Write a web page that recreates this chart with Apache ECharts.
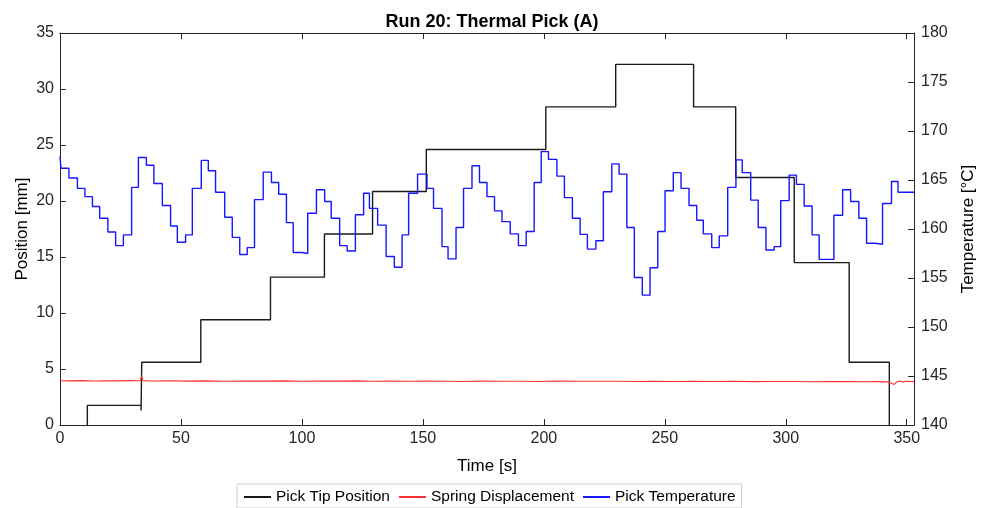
<!DOCTYPE html>
<html>
<head>
<meta charset="utf-8">
<title>Run 20: Thermal Pick (A)</title>
<script src="https://cdn.jsdelivr.net/npm/echarts@6/dist/echarts.min.js"></script>
<style>
  html, body { margin: 0; padding: 0; background: #fff; }
  #chart { width: 981px; height: 508px; }
</style>
</head>
<body>
<div id="chart"></div>
<script>
// Pick tip position [mm] — level start times [s] and held values
const posTime = [0, 11.3, 33.5, 33.8, 58.2, 87.0, 109.3, 129.2, 151.4, 200.8, 229.7, 261.9, 279.3, 303.5, 326.2, 342.8, 353];
const posVal  = [-0.5, 1.75, 1.3, 5.6, 9.4, 13.2, 17.05, 20.85, 24.6, 28.4, 32.2, 28.4, 22.1, 14.5, 5.6, -0.5, -0.5];

// Spring displacement [mm]
const springTime = [0, 4, 9, 14, 19, 24, 29, 33.2, 33.7, 34.3, 38, 45, 52, 60, 68, 76, 84, 92, 100, 108,
  116, 122, 128.6, 129.1, 129.8, 136, 144, 152, 160, 166, 174, 182, 190, 198, 206, 214, 222, 229.4, 229.9, 230.5,
  238, 246, 254, 262, 270, 278, 286, 294, 302, 310, 318, 326.1, 326.6, 332, 338, 342.5, 344.8, 345.6, 347, 348.4,
  350, 353];
const springVal = [3.95, 3.94, 3.96, 3.93, 3.95, 3.94, 3.96, 3.95, 4.4, 3.96, 3.93, 3.95, 3.92, 3.94, 3.91, 3.93, 3.92, 3.94, 3.91, 3.93,
  3.92, 3.94, 3.90, 3.76, 3.91, 3.92, 3.90, 3.93, 3.91, 3.89, 3.92, 3.90, 3.91, 3.89, 3.92, 3.90, 3.91, 3.90, 4.05, 3.90,
  3.89, 3.91, 3.88, 3.90, 3.88, 3.90, 3.87, 3.89, 3.88, 3.86, 3.88, 3.87, 3.98, 3.86, 3.87, 3.85, 3.62, 3.80, 3.92, 3.85,
  3.90, 3.87];

// Pick temperature [°C] — level start times [s] and held values
const tempTime = [0, 0.4, 3.7, 7.2, 10.3, 13.4, 16.4, 19.8, 23.0, 26.2, 29.6, 32.4, 35.7, 38.8, 42.3, 45.7, 48.5, 51.9, 54.7, 58.4,
  61.3, 64.3, 68.1, 71.2, 74.3, 77.4, 80.4, 84.0, 87.4, 90.4, 93.6, 96.4, 100.1, 102.4, 106.0, 109.4, 112.1, 115.6, 118.7, 122.1,
  125.5, 127.9, 131.3, 134.8, 138.2, 141.4, 144.1, 147.8, 151.7, 154.4, 157.9, 160.4, 163.7, 166.8, 170.3, 173.4, 176.5, 179.6, 182.7, 186.1,
  189.5, 192.7, 196.0, 198.9, 201.9, 205.4, 208.5, 211.8, 215.0, 218.0, 221.5, 224.6, 228.1, 231.1, 234.3, 237.4, 240.7, 243.9, 247.1, 250.1,
  253.5, 256.7, 260.0, 263.2, 265.9, 269.4, 272.5, 276.0, 279.4, 282.0, 285.5, 288.6, 291.8, 295.2, 297.9, 301.4, 304.4, 307.6, 310.9, 313.8,
  319.9, 323.5, 326.8, 330.2, 333.4, 336.8, 340.0, 343.7, 346.4, 353];
const tempVal = [167.4, 166.2, 165.2, 164.15, 163.3, 162.3, 161.1, 159.7, 158.3, 159.4, 164.25, 167.3, 166.5, 164.65, 162.4, 160.3, 158.65, 159.4, 164.15, 167.0,
  165.95, 163.75, 161.2, 159.15, 157.4, 158.1, 163.0, 165.8, 164.75, 163.55, 160.65, 157.6, 157.5, 161.6, 164.0, 162.8, 161.1, 158.3, 157.75, 161.45,
  163.65, 162.1, 160.4, 157.2, 156.1, 159.4, 163.65, 165.6, 164.15, 162.1, 158.2, 156.95, 160.15, 164.15, 166.45, 164.75, 163.3, 161.85, 160.75, 159.5,
  158.3, 159.75, 164.75, 167.9, 167.1, 165.4, 163.2, 161.1, 159.45, 157.95, 158.8, 163.8, 166.65, 165.6, 160.15, 155.05, 153.25, 156.05, 159.75, 163.9,
  165.75, 164.15, 162.4, 160.9, 159.5, 158.1, 159.3, 164.25, 167.05, 165.75, 162.95, 160.15, 157.85, 158.2, 162.9, 165.5, 164.55, 162.35, 159.4, 156.9,
  161.4, 164.0, 162.8, 161.1, 158.55, 158.45, 162.6, 164.85, 163.75, 163.75];

const xTicks = { min: 0, max: 353, interval: 50 };
const posTicks = { min: 0, max: 35, interval: 5 };
const tempTicks = { min: 140, max: 180, interval: 5 };

const zip = (a, b) => a.map((v, i) => [v, b[i]]);

const axisColor = '#262626';
const font = 'Liberation Sans, Arial, Helvetica, sans-serif';

const chart = echarts.init(document.getElementById('chart'), null, { renderer: 'canvas' });

// shared look of the boxed axes: thin dark line, ticks pointing into the plot
const boxLine = { show: true, onZero: false, lineStyle: { color: axisColor, width: 1 } };
const boxTick = { show: true, inside: true, length: 6, lineStyle: { color: axisColor } };

chart.setOption({
  animation: false,
  backgroundColor: '#ffffff',
  title: {
    text: 'Run 20: Thermal Pick (A)',
    left: 487,
    textAlign: 'center',
    top: 8,
    textStyle: { fontFamily: font, fontSize: 18, fontWeight: 'bold', color: '#000' }
  },
  grid: { left: 60, right: 67, top: 33, bottom: 83, containLabel: false, outerBoundsMode: 'none' },
  legend: {
    left: 237,
    top: 484,
    padding: [5, 6, 3, 6],
    itemGap: 8,
    itemWidth: 27,
    itemHeight: 14,
    borderColor: '#cfcfcf',
    borderWidth: 1,
    itemStyle: { opacity: 0 },
    textStyle: { fontFamily: font, fontSize: 15.5, color: '#000' },
    data: ['Pick Tip Position', 'Spring Displacement', 'Pick Temperature']
  },
  xAxis: [
    {
      type: 'value', position: 'bottom',
      min: xTicks.min, max: xTicks.max, interval: xTicks.interval,
      name: 'Time [s]', nameLocation: 'middle', nameGap: 33,
      nameTextStyle: { fontFamily: font, fontSize: 17, color: '#000' },
      axisLine: boxLine,
      axisTick: boxTick,
      axisLabel: { fontFamily: font, fontSize: 16, color: axisColor, margin: 6, showMaxLabel: false },
      splitLine: { show: false }
    },
    {
      type: 'value', position: 'top',
      min: xTicks.min, max: xTicks.max, interval: xTicks.interval,
      axisLine: boxLine,
      axisTick: boxTick,
      axisLabel: { show: false },
      splitLine: { show: false }
    }
  ],
  yAxis: [
    {
      type: 'value', position: 'left',
      min: posTicks.min, max: posTicks.max, interval: posTicks.interval,
      name: 'Position [mm]', nameLocation: 'middle', nameGap: 29,
      nameMoveOverlap: false,
      nameTextStyle: { fontFamily: font, fontSize: 17, color: '#000' },
      axisLine: boxLine,
      axisTick: boxTick,
      axisLabel: { fontFamily: font, fontSize: 16, color: axisColor, margin: 6 },
      splitLine: { show: false }
    },
    {
      type: 'value', position: 'right',
      min: tempTicks.min, max: tempTicks.max, interval: tempTicks.interval,
      name: 'Temperature [°C]', nameLocation: 'middle', nameGap: 46,
      nameTextStyle: { fontFamily: font, fontSize: 17, color: '#000' },
      axisLine: boxLine,
      axisTick: boxTick,
      axisLabel: { fontFamily: font, fontSize: 16, color: axisColor, margin: 7 },
      splitLine: { show: false }
    }
  ],
  series: [
    {
      name: 'Pick Tip Position', type: 'line', xAxisIndex: 0, yAxisIndex: 0,
      step: 'end', symbol: 'none', clip: true,
      data: zip(posTime, posVal),
      itemStyle: { color: '#1a1a1a' },
      lineStyle: { color: '#1a1a1a', width: 1.4 }
    },
    {
      name: 'Spring Displacement', type: 'line', xAxisIndex: 0, yAxisIndex: 0,
      symbol: 'none', clip: true,
      data: zip(springTime, springVal),
      itemStyle: { color: '#ff3030' },
      lineStyle: { color: '#ff3030', width: 1.1 }
    },
    {
      name: 'Pick Temperature', type: 'line', xAxisIndex: 0, yAxisIndex: 1,
      step: 'end', symbol: 'none', clip: true,
      data: zip(tempTime, tempVal),
      itemStyle: { color: '#1515ff' },
      lineStyle: { color: '#1515ff', width: 1.4 }
    }
  ]
});
</script>
</body>
</html>
